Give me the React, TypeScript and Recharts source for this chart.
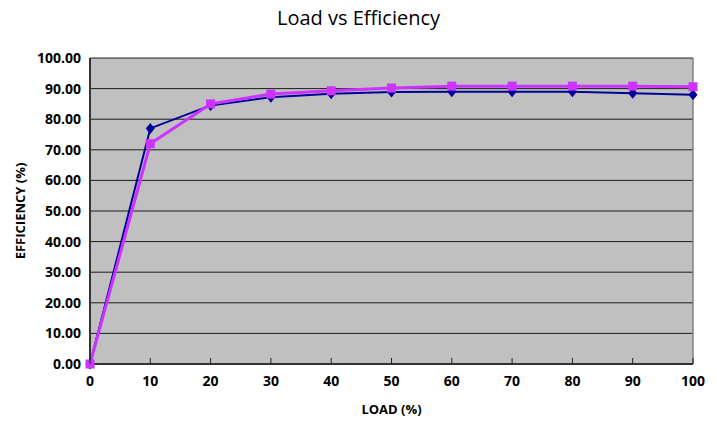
import React from "react";
import { LineChart, Line, XAxis, YAxis, CartesianGrid, ReferenceLine, Label } from "recharts";

const loads = [0, 10, 20, 30, 40, 50, 60, 70, 80, 90, 100];
const seriesA = [0, 77, 84.5, 87.2, 88.3, 88.9, 89.0, 89.0, 89.0, 88.5, 88.0];
const seriesB = [0, 72, 85.0, 88.2, 89.3, 90.2, 90.8, 90.8, 90.8, 90.8, 90.6];
const yTicks = [0, 10, 20, 30, 40, 50, 60, 70, 80, 90, 100];

const data = loads.map((l, i) => ({ load: l, a: seriesA[i], b: seriesB[i] }));

const FONT = "'Open Sans', 'DejaVu Sans', sans-serif";

const Diamond = (props: any) => {
  const { cx, cy } = props;
  if (cx == null || cy == null) return null;
  return <path d={`M${cx},${cy - 5.5} L${cx + 4.5},${cy} L${cx},${cy + 5.5} L${cx - 4.5},${cy} Z`} fill="#000099" />;
};

const Square = (props: any) => {
  const { cx, cy } = props;
  if (cx == null || cy == null) return null;
  return <rect x={cx - 4.5} y={cy - 4.5} width={9} height={9} fill="#CC33FF" />;
};

const XTick = (props: any) => {
  const { x, y, payload } = props;
  return (
    <g>
      <line x1={x} y1={y} x2={x} y2={y - 6} stroke="#222" strokeWidth={1} />
      <text x={x} y={y + 22} textAnchor="middle" fontFamily={FONT} fontWeight="bold" fontSize={14} fill="#000">
        {payload.value}
      </text>
    </g>
  );
};

const YLabel = (props: any) => {
  const vb = props.viewBox || {};
  const cx = 20;
  const cy = (vb.y ?? 58) + (vb.height ?? 306) / 2;
  return (
    <text
      x={cx}
      y={cy}
      transform={`rotate(-90 ${cx} ${cy})`}
      textAnchor="middle"
      dominantBaseline="central"
      fontFamily={FONT}
      fontWeight="bold"
      fontSize={13}
      fill="#000"
    >
      EFFICIENCY (%)
    </text>
  );
};

export default function App() {
  return (
    <div style={{ position: "absolute", left: 0, top: 0, width: 717, height: 421, background: "#fff" }}>
      <div
        style={{
          position: "absolute",
          left: 0,
          top: 4,
          width: 717,
          textAlign: "center",
          fontFamily: FONT,
          fontSize: 20,
          color: "#000",
        }}
      >
        Load vs Efficiency
      </div>
      <LineChart width={717} height={421} data={data} margin={{ top: 58, right: 24, bottom: 0, left: 0 }}>
        <CartesianGrid vertical={false} horizontal={true} stroke="#000" strokeOpacity={0.85} fill="#c0c0c0" fillOpacity={1} />
        <XAxis
          dataKey="load"
          type="number"
          domain={[0, 100]}
          ticks={loads}
          height={57}
          tickSize={0}
          tickMargin={0}
          tick={<XTick />}
          axisLine={{ stroke: "#333", strokeWidth: 2 }}
          tickLine={false}
        >
          <Label
            value="LOAD (%)"
            position="insideBottom"
            offset={7}
            style={{ fontFamily: FONT, fontWeight: "bold", fontSize: 13, fill: "#000" }}
          />
        </XAxis>
        <YAxis
          type="number"
          domain={[0, 100]}
          ticks={yTicks}
          width={90}
          tickSize={0}
          tickMargin={9}
          tickFormatter={(v: number) => v.toFixed(2)}
          tick={{ fontFamily: FONT, fontWeight: "bold", fontSize: 14, fill: "#000" }}
          axisLine={{ stroke: "#333", strokeWidth: 2 }}
          tickLine={false}
        >
          <Label content={<YLabel />} />
        </YAxis>
        <ReferenceLine x={100} stroke="#808080" strokeWidth={1.5} />
        <Line
          dataKey="a"
          stroke="#000099"
          strokeWidth={2}
          dot={<Diamond />}
          activeDot={false}
          isAnimationActive={false}
        />
        <Line
          dataKey="b"
          stroke="#CC33FF"
          strokeWidth={3}
          dot={<Square />}
          activeDot={false}
          isAnimationActive={false}
        />
      </LineChart>
    </div>
  );
}
